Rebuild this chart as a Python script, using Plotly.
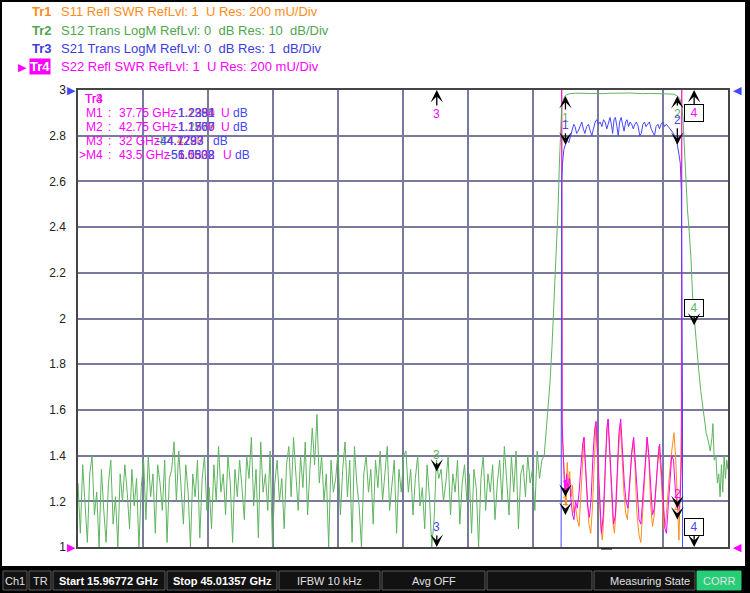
import numpy as np
import plotly.graph_objects as go

# Sweep settings shown in the status bar
START_GHZ = 15.96772
STOP_GHZ = 45.01357

# Tr2 S12 noise floor (dB), evenly spaced sweep points from start to 36.8 GHz
s12_floor_end_ghz = 36.80
s12_floor_db = [
    -86, -97, -82, -90, -99, -84, -80, -93, -88, -100,
    -83, -92, -99, -86, -81, -95, -89, -100, -84, -90,
    -82, -88, -96, -83, -91, -85, -100, -87, -81, -94,
    -80, -89, -84, -97, -82, -86, -92, -81, -99, -85,
    -83, -77, -90, -79, -86, -95, -82, -88, -100, -84,
    -89, -81, -98, -85, -80, -92, -87, -96, -82, -90,
    -78, -88, -84, -93, -80, -86, -99, -83, -89, -81,
    -87, -94, -80, -85, -76, -91, -83, -98, -77, -88,
    -84, -92, -79, -100, -86, -81, -90, -85, -96, -82,
    -78, -89, -76, -84, -92, -80, -87, -77, -93, -83,
    -74, -82, -71, -86, -80, -90, -84, -100, -81, -88,
    -85, -79, -93, -83, -77, -89, -81, -99, -78, -86,
    -91, -100, -84, -80, -88, -83, -95, -81, -87, -79,
    -90, -84, -78, -92, -86, -81, -97, -83, -88, -80,
    -79, -88, -83, -93, -85, -80, -91, -87, -96, -82,
    -89, -100, -94, -81, -85, -83, -90, -86, -80, -93,
    -84, -88, -81, -95, -86, -82, -90, -84, -97, -83,
    -87, -100, -85, -80, -92, -84, -88, -82, -94, -86,
    -81, -90, -78, -85, -93, -80, -88, -79, -96, -84,
    -82, -89, -80, -86, -83, -92, -79, -85, -81, -80,
]

# Tr2 S12 passband and skirts
s12_edge_ghz = [
    36.88, 36.97, 37.06, 37.15, 37.24, 37.33, 37.42, 37.48, 37.53, 37.58,
    37.64, 37.72, 37.80, 37.95, 38.20, 38.50, 38.80, 39.10, 39.40, 39.70,
    40.00, 40.30, 40.60, 40.90, 41.20, 41.50, 41.80, 42.10, 42.40, 42.60,
    42.75, 42.85, 42.93, 43.00, 43.06, 43.12, 43.20, 43.28, 43.36, 43.44,
    43.52, 43.60, 43.70, 43.80, 43.92, 44.04, 44.14, 44.22, 44.30, 44.34,
    44.40, 44.47, 44.54, 44.60, 44.66, 44.72, 44.78, 44.84, 44.90, 44.96,
    45.01,
]
s12_edge_db = [
    -75, -70, -64, -56, -47, -37, -26, -16, -8, -4,
    -2.2, -1.4, -1.0, -0.8, -0.7, -0.75, -0.65, -0.7, -0.8, -0.7,
    -0.75, -0.7, -0.65, -0.75, -0.8, -0.75, -0.8, -0.85, -0.85, -0.9,
    -1.3, -1.8, -3, -6, -12, -19, -26, -31, -37, -46,
    -51, -55, -61, -66, -71, -75, -77, -79, -76, -73,
    -81, -80, -86, -84, -89, -82, -88, -80, -85, -81,
    -83,
]

# Tr3 S21 (dB)
s21_ghz = [
    15.97, 25.00, 32.00, 36.00, 37.30, 37.52, 37.58, 37.62, 37.68, 37.75,
    37.82, 37.90, 37.98, 38.05, 38.12, 38.18, 38.25, 38.32, 38.40, 38.48,
    38.55, 38.62, 38.70, 38.78, 38.86, 38.93, 39.00, 39.08, 39.15, 39.22,
    39.30, 39.38, 39.45, 39.52, 39.60, 39.67, 39.74, 39.80, 39.86, 39.92,
    39.98, 40.05, 40.11, 40.17, 40.24, 40.30, 40.37, 40.44, 40.50, 40.57,
    40.64, 40.71, 40.78, 40.85, 40.92, 41.00, 41.07, 41.14, 41.21, 41.28,
    41.35, 41.42, 41.50, 41.58, 41.66, 41.73, 41.80, 41.88, 41.95, 42.02,
    42.10, 42.18, 42.26, 42.34, 42.42, 42.50, 42.58, 42.66, 42.75, 42.82,
    42.88, 42.93, 42.96, 42.98, 43.00, 43.10, 44.00, 45.01,
]
s21_db = [
    -48, -46, -44, -38, -30, -22, -2.0, -1.6, -1.3, -1.2,
    -1.1, -1.15, -1.0, -0.85, -0.75, -0.8, -0.95, -0.9, -0.8, -0.7,
    -0.85, -0.95, -0.8, -0.75, -0.9, -1.0, -0.85, -0.7, -0.65, -0.75,
    -0.7, -0.8, -0.65, -0.7, -0.85, -0.7, -0.6, -0.75, -0.95, -0.65,
    -0.6, -0.8, -1.0, -0.7, -0.6, -0.75, -0.9, -0.7, -0.65, -0.8,
    -0.7, -0.75, -0.85, -0.75, -0.7, -0.8, -1.0, -0.95, -0.75, -0.7,
    -0.8, -0.75, -0.7, -0.85, -0.95, -1.0, -0.8, -0.75, -0.85, -0.75,
    -0.7, -0.8, -0.75, -0.8, -0.85, -0.9, -0.95, -1.05, -1.2, -1.4,
    -1.6, -2.2, -4.0, -7.0, -25, -40, -45, -47,
]

# Tr1 S11 (SWR)
s11_ghz = [
    15.97, 30.00, 37.48, 37.61, 37.68, 37.73, 37.78, 37.83, 37.88, 37.94,
    38.00, 38.06, 38.12, 38.20, 38.28, 38.36, 38.44, 38.52, 38.58, 38.64,
    38.72, 38.80, 38.88, 38.96, 39.04, 39.11, 39.18, 39.26, 39.33, 39.40,
    39.47, 39.55, 39.64, 39.72, 39.80, 39.88, 39.94, 40.02, 40.10, 40.20,
    40.28, 40.36, 40.44, 40.52, 40.60, 40.70, 40.78, 40.86, 40.94, 41.04,
    41.12, 41.20, 41.30, 41.40, 41.48, 41.56, 41.64, 41.72, 41.82, 41.92,
    42.00, 42.08, 42.15, 42.22, 42.30, 42.40, 42.50, 42.60, 42.68, 42.76,
    42.82, 42.88, 42.93, 42.98, 45.01,
]
s11_swr = [
    9, 9, 9, 1.48, 1.36, 1.25, 1.18, 1.37, 1.28, 1.33,
    1.22, 1.27, 1.15, 1.18, 1.12, 1.09, 1.22, 1.38, 1.48, 1.36,
    1.20, 1.10, 1.06, 1.18, 1.38, 1.53, 1.40, 1.20, 1.08, 1.03,
    1.15, 1.38, 1.56, 1.42, 1.22, 1.10, 1.06, 1.18, 1.38, 1.54,
    1.40, 1.24, 1.15, 1.12, 1.24, 1.40, 1.47, 1.35, 1.15, 1.05,
    1.02, 1.15, 1.35, 1.48, 1.38, 1.18, 1.09, 1.14, 1.30, 1.44,
    1.35, 1.18, 1.08, 1.10, 1.22, 1.32, 1.42, 1.50, 1.38, 1.14,
    1.03, 1.25, 1.55, 9, 9,
]

# Tr4 S22 (SWR)
s22_ghz = [
    15.97, 30.00, 37.50, 37.60, 37.65, 37.70, 37.75, 37.80, 37.86, 37.93,
    38.00, 38.07, 38.13, 38.20, 38.28, 38.36, 38.44, 38.52, 38.58, 38.66,
    38.74, 38.82, 38.90, 38.98, 39.06, 39.12, 39.20, 39.28, 39.36, 39.44,
    39.52, 39.60, 39.66, 39.74, 39.82, 39.90, 39.98, 40.06, 40.14, 40.22,
    40.30, 40.38, 40.46, 40.54, 40.62, 40.72, 40.80, 40.88, 40.96, 41.04,
    41.12, 41.20, 41.30, 41.40, 41.48, 41.56, 41.64, 41.72, 41.80, 41.90,
    41.96, 42.04, 42.12, 42.20, 42.26, 42.34, 42.42, 42.50, 42.58, 42.66,
    42.75, 42.82, 42.88, 42.94, 43.00, 45.01,
]
s22_swr = [
    10, 10, 10, 1.55, 1.38, 1.28, 1.22, 1.32, 1.25, 1.30,
    1.20, 1.14, 1.12, 1.20, 1.17, 1.24, 1.35, 1.45, 1.48, 1.32,
    1.18, 1.13, 1.22, 1.40, 1.52, 1.55, 1.38, 1.18, 1.06, 1.14,
    1.35, 1.52, 1.56, 1.40, 1.20, 1.10, 1.14, 1.32, 1.50, 1.56,
    1.42, 1.28, 1.20, 1.17, 1.28, 1.42, 1.48, 1.36, 1.20, 1.12,
    1.10, 1.22, 1.38, 1.48, 1.40, 1.24, 1.14, 1.17, 1.28, 1.40,
    1.45, 1.32, 1.18, 1.08, 1.06, 1.16, 1.30, 1.40, 1.38, 1.25,
    1.17, 1.16, 1.22, 1.40, 10, 10,
]

# Markers M1..M4
marker_ghz = [37.75, 42.75, 32.0, 43.5]
marker_freq_text = ["37.75 GHz", "42.75 GHz", "32 GHz", "43.5 GHz"]
s12_marker_db = [-1.3, -1.3, -83.5, -51.5]
s21_marker_db = [-1.2, -1.2]
s11_marker_swr = [1.14, 1.12]
s22_marker_swr = [1.22, 1.17]

readout_s21 = ["-1.2381", "-1.1567", "-44.7293", "-56.0508"]
readout_s12 = ["-1.2990", "-1.2876", "-84.7283", "-51.0628"]
readout_s11 = ["1.1354", "1.1209", "4.4720", "5.1602"]
readout_s22 = ["1.2204", "1.1700", "4.1737", "1.5332"]

y_ticks = [1, 1.2, 1.4, 1.6, 1.8, 2, 2.2, 2.4, 2.6, 2.8, 3]
y_tick_text = ["1", "1.2", "1.4", "1.6", "1.8", "2", "2.2", "2.4", "2.6", "2.8", "3"]

header_tags = ["Tr1", "Tr2", "Tr3", "Tr4"]
header_text = [
    "S11 Refl SWR RefLvl: 1  U Res: 200 mU/Div",
    "S12 Trans LogM RefLvl: 0  dB Res: 10  dB/Div",
    "S21 Trans LogM RefLvl: 0  dB Res: 1  dB/Div",
    "S22 Refl SWR RefLvl: 1  U Res: 200 mU/Div",
]
status_cells = ["Ch1", "TR", "Start 15.96772 GHz", "Stop 45.01357 GHz", "IFBW 10 kHz",
                "Avg OFF", "", "Measuring State", "CORR"]

ORANGE = "rgb(255,140,25)"
GREEN = "rgb(95,180,95)"
BLUE = "rgb(70,70,255)"
MAGENTA = "rgb(255,0,255)"
FONT = "Liberation Sans"

# plot area in pixels, used to place decorations in paper coordinates
PL, PR, PT, PB = 78, 728, 90, 547


def px(x):
    return (x - PL) / (PR - PL)


def py(y):
    return (PB - y) / (PB - PT)


fig = go.Figure()

s12_ghz = np.concatenate([np.linspace(START_GHZ, s12_floor_end_ghz, len(s12_floor_db)), s12_edge_ghz])
s12_db = np.concatenate([s12_floor_db, s12_edge_db])

fig.add_trace(go.Scatter(x=s12_ghz, y=s12_db, yaxis="y2", mode="lines",
                         line=dict(color=GREEN, width=1)))
fig.add_trace(go.Scatter(x=s21_ghz, y=s21_db, yaxis="y3", mode="lines",
                         line=dict(color=BLUE, width=1)))
fig.add_trace(go.Scatter(x=s11_ghz, y=s11_swr, mode="lines",
                         line=dict(color=ORANGE, width=1)))
fig.add_trace(go.Scatter(x=s22_ghz, y=s22_swr, mode="lines",
                         line=dict(color=MAGENTA, width=1)))

# stimulus indicators under the axis
fig.add_trace(go.Scatter(x=marker_ghz, y=[0.972] * 4, mode="markers", cliponaxis=False,
                         marker=dict(symbol="triangle-up", size=8, color="black")))

annotations = []


def marker_arrow(x, y, yref, text, color, ay, boxed=False):
    a = dict(x=x, y=y, xref="x", yref=yref, text=text, showarrow=True,
             arrowhead=3, arrowsize=1.6, arrowwidth=1.3, arrowcolor="black",
             ax=0, ay=ay, standoff=0, font=dict(family=FONT, size=12, color=color))
    if boxed:
        a.update(bordercolor="black", borderwidth=1, borderpad=1, bgcolor="white", width=16)
    annotations.append(a)


# Tr2 (green) markers
marker_arrow(marker_ghz[0], s12_marker_db[0], "y2", "1", GREEN, 22)
marker_arrow(marker_ghz[1], s12_marker_db[1], "y2", "2", GREEN, 18)
marker_arrow(marker_ghz[2], s12_marker_db[2], "y2", "3", GREEN, -17)
marker_arrow(marker_ghz[3], s12_marker_db[3], "y2", "4", GREEN, -17, boxed=True)
# Tr3 (blue) markers
marker_arrow(marker_ghz[0], s21_marker_db[0], "y3", "1", BLUE, -20)
marker_arrow(marker_ghz[1], s21_marker_db[1], "y3", "2", BLUE, -25)
marker_arrow(marker_ghz[2], 1, "y", "3", BLUE, -20)
marker_arrow(marker_ghz[3], 1, "y", "4", BLUE, -20, boxed=True)
# Tr1 / Tr4 markers inside the passband
marker_arrow(marker_ghz[0], s11_marker_swr[0], "y", "1", ORANGE, -14)
marker_arrow(marker_ghz[0], s22_marker_swr[0], "y", "1", MAGENTA, -12)
marker_arrow(marker_ghz[1], s11_marker_swr[1], "y", "2", ORANGE, -14)
marker_arrow(marker_ghz[1], s22_marker_swr[1], "y", "2", MAGENTA, -14)
# Tr4 markers above the screen
marker_arrow(marker_ghz[2], 3, "y", "3", MAGENTA, 24)
marker_arrow(marker_ghz[3], 3, "y", "4", MAGENTA, 23, boxed=True)


def text(x, y, s, color, size=12, bold=False, anchor="left", **kw):
    if bold:
        s = "<b>" + s + "</b>"
    annotations.append(dict(x=px(x), y=py(y), xref="paper", yref="paper", text=s,
                            showarrow=False, xanchor=anchor, yanchor="middle",
                            font=dict(family=FONT, size=size, color=color), **kw))


# header lines
header_colors = [ORANGE, "rgb(80,165,80)", "rgb(60,60,225)", MAGENTA]
for i, (tag, line) in enumerate(zip(header_tags, header_text)):
    y = 12 + i * 18.3
    if i == 3:
        text(29, y, tag, "white", size=13, bold=True, bgcolor=MAGENTA, borderpad=0)
        text(16, y, "\u25b6", MAGENTA, size=11)
    else:
        text(30, y, tag, header_colors[i], size=13, bold=True)
    text(59, y, line, header_colors[i], size=13)

# marker readout block
text(83, 99, "Tr3", MAGENTA)
text(83, 99, "Tr4", MAGENTA)
value_right = [217, 217, 206, 217]
unit_left = [219, 219, 211, 221]
for i, freq in enumerate(marker_freq_text):
    y = 113 + i * 14
    text(77 if i == 3 else 84, y, (">" if i == 3 else "") + "M" + str(i + 1), MAGENTA)
    text(106, y, ":", MAGENTA)
    text(117, y, freq, MAGENTA)
    for s, c in ((readout_s11[i], ORANGE), (readout_s12[i], GREEN),
                 (readout_s22[i], MAGENTA), (readout_s21[i], BLUE)):
        text(value_right[i], y, s, c, anchor="right")
    if i != 2:
        text(unit_left[i], y, "U", MAGENTA)
    text(unit_left[i] + (12 if i != 2 else 0), y, "dB", BLUE)

# reference level pointers
text(71, 90, "\u25b6", BLUE, size=11, anchor="center")
text(737, 90, "\u25c0", BLUE, size=11, anchor="center")
text(71, 547, "\u25b6", MAGENTA, size=11, anchor="center")
text(737, 547, "\u25c0", MAGENTA, size=11, anchor="center")

shapes = []


def rect(x0, y0, x1, y1, fill, line=None):
    shapes.append(dict(type="rect", xref="paper", yref="paper",
                       x0=px(x0), x1=px(x1), y0=py(y1), y1=py(y0),
                       fillcolor=fill, line=dict(color=line or fill, width=1 if line else 0),
                       layer="above"))


# window frame
rect(0, 0, 750, 2, "black")
rect(0, 0, 2, 566, "black")
rect(745, 0, 750, 593, "black")
# small dash under the axis
shapes.append(dict(type="line", xref="paper", yref="paper", x0=px(601), x1=px(612),
                   y0=py(549), y1=py(549), line=dict(color="black", width=1)))

# status bar
rect(0, 566, 750, 593, "black")
cells = [(3, 27), (29, 51), (53, 165), (167, 277), (279, 380), (382, 485),
         (487, 592), (594, 695), (697, 741)]
for (x0, x1), label in zip(cells, status_cells):
    corr = label == "CORR"
    rect(x0, 571, x1, 590, "rgb(40,205,120)" if corr else "rgb(18,18,18)",
         line="rgb(40,205,120)" if corr else "rgb(95,95,95)")
    bold = label.startswith("Start") or label.startswith("Stop")
    if label == "Measuring State":
        text(x1 - 3, 581, label, "rgb(225,225,225)", size=11, anchor="right")
    elif label:
        text((x0 + x1) / 2, 581, label, "white" if bold else "rgb(225,225,225)",
             size=11, bold=bold, anchor="center")

grid = "rgb(122,122,158)"
fig.update_layout(
    width=750,
    height=593,
    margin=dict(l=PL, r=750 - PR, t=PT, b=593 - PB),
    paper_bgcolor="white",
    plot_bgcolor="white",
    showlegend=False,
    font=dict(family=FONT, size=12, color="#222"),
    xaxis=dict(range=[START_GHZ, STOP_GHZ], tick0=START_GHZ, dtick=(STOP_GHZ - START_GHZ) / 10,
               showticklabels=False, showgrid=True, gridcolor=grid, gridwidth=1.5,
               zeroline=False, showline=True, mirror=True, linecolor="rgb(70,70,70)", linewidth=1.5),
    yaxis=dict(range=[1, 3], tickvals=y_ticks, ticktext=y_tick_text, showgrid=True,
               gridcolor=grid, gridwidth=1.5, zeroline=False, showline=True, mirror=True,
               linecolor="rgb(70,70,70)", linewidth=1.5, ticks="", ticklabelstandoff=8,
               tickfont=dict(family=FONT, size=12, color="#222")),
    yaxis2=dict(range=[-100, 0], overlaying="y", visible=False),
    yaxis3=dict(range=[-10, 0], overlaying="y", visible=False),
    annotations=annotations,
    shapes=shapes,
)

# the page body has a default 8px margin; remove it so the figure sits at the window origin
fig.write_html("out.html", config={"displayModeBar": False},
               post_script="document.body.style.margin = '0';")
